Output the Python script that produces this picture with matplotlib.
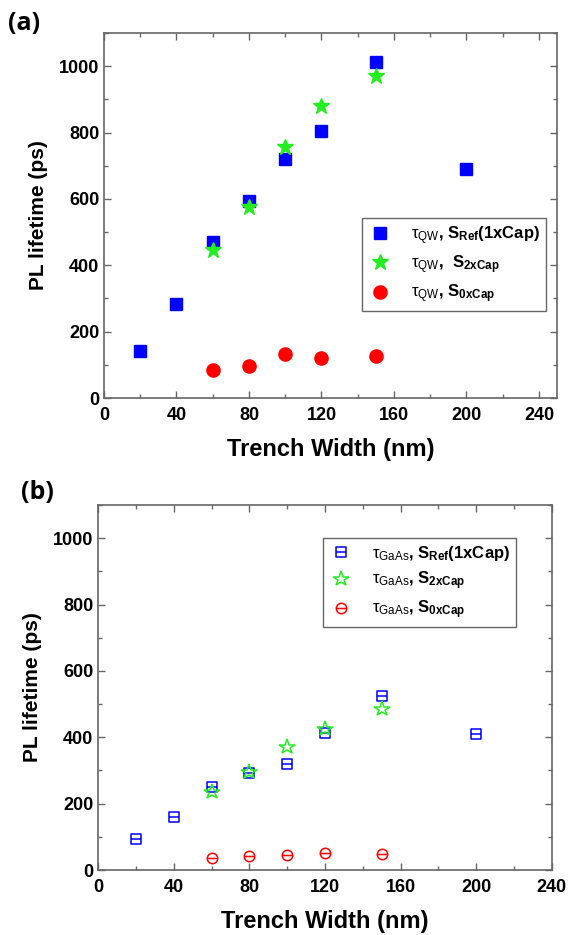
import matplotlib
matplotlib.use('Agg')
import matplotlib.pyplot as plt
import numpy as np
from matplotlib.path import Path
from matplotlib.ticker import MultipleLocator

plt.rcParams.update({
    'font.family': ['Liberation Sans', 'DejaVu Sans'],
    'font.weight': 'bold',
    'mathtext.fontset': 'custom',
    'mathtext.rm': 'Liberation Sans:normal',
    'mathtext.it': 'Liberation Sans:normal',
    'mathtext.bf': 'Liberation Sans:bold',
    'xtick.direction': 'in',
    'ytick.direction': 'in',
})

# ---- data (trench width in nm, PL lifetime in ps) ----
w_ref = [20, 40, 60, 80, 100, 120, 150, 200]
w_cap = [60, 80, 100, 120, 150]

qw_ref = [141, 282, 470, 594, 721, 804, 1013, 689]
qw_2x = [446, 576, 757, 880, 971]
qw_0x = [85, 97, 133, 121, 127]

gaas_ref = [93, 159, 251, 291, 318, 414, 524, 409]
gaas_2x = [236, 295, 370, 426, 485]
gaas_0x = [35, 42, 44, 50, 47]

BLUE = '#0000FF'
GREEN = '#22EE22'
RED = '#FF0000'
SPINE = '#666666'

# custom open markers with a horizontal bar (square / circle)
bar = Path([(-1, 0), (1, 0)], [Path.MOVETO, Path.LINETO])
sq = Path([(-1, -1), (1, -1), (1, 1), (-1, 1), (-1, -1)],
          [Path.MOVETO, Path.LINETO, Path.LINETO, Path.LINETO, Path.CLOSEPOLY])
sq_bar = Path.make_compound_path(sq, bar)
circ_bar = Path.make_compound_path(Path.unit_circle(), bar)

fig = plt.figure(figsize=(5.79, 9.35), dpi=100)
ax_a = fig.add_axes([0.1796, 0.5743, 0.7826, 0.3904])
ax_b = fig.add_axes([0.1698, 0.0695, 0.7830, 0.3904])


def style_axes(ax, xmax):
    ax.set_xlim(0, xmax)
    ax.set_ylim(0, 1100)
    ax.xaxis.set_major_locator(MultipleLocator(40))
    ax.xaxis.set_minor_locator(MultipleLocator(20))
    ax.yaxis.set_major_locator(MultipleLocator(200))
    ax.yaxis.set_minor_locator(MultipleLocator(100))
    ax.tick_params(which='both', top=True, right=True, color=SPINE,
                   labelsize=13, width=1.0)
    ax.tick_params(which='major', length=5)
    ax.tick_params(which='minor', length=3)
    ax.tick_params(axis='x', which='major', pad=6.5)
    for s in ax.spines.values():
        s.set_color(SPINE)
        s.set_linewidth(1.2)
    for lab in ax.get_xticklabels() + ax.get_yticklabels():
        lab.set_fontweight('bold')
    ax.set_xlabel('Trench Width (nm)', fontsize=17, fontweight='bold',
                  labelpad=10)
    ax.set_ylabel('PL lifetime (ps)', fontsize=15, fontweight='bold',
                  labelpad=8)


def add_legend(ax, anchor):
    leg = ax.legend(loc='upper left', bbox_to_anchor=anchor,
                    prop={'size': 12, 'weight': 'bold'}, fancybox=False,
                    edgecolor=SPINE, framealpha=1, handletextpad=1.1,
                    labelspacing=0.4, borderpad=0.35, handlelength=1.5,
                    borderaxespad=0)
    leg.get_frame().set_linewidth(1.0)
    return leg


# ---- panel (a) ----
ax = ax_a
ax.plot(w_ref, qw_ref, 's', color=BLUE, ms=8.5, mec=BLUE,
        label=r'$\mathrm{\tau_{QW}}$, $\mathbf{S_{Ref}(1xCap)}$')
ax.plot(w_cap, qw_2x, '*', color=GREEN, ms=12, mec=GREEN,
        label=r'$\mathrm{\tau_{QW}}$,  $\mathbf{S_{2xCap}}$')
ax.plot(w_cap, qw_0x, 'o', color=RED, ms=9.5, mec=RED,
        label=r'$\mathrm{\tau_{QW}}$, $\mathbf{S_{0xCap}}$')
style_axes(ax, 250)
add_legend(ax, (0.5695, 0.493))

# ---- panel (b) ----
ax = ax_b
ax.plot(w_ref, gaas_ref, linestyle='none', marker=sq_bar, ms=7.5,
        mfc='none', mec=BLUE, mew=1.1,
        label=r'$\mathrm{\tau_{GaAs}}$, $\mathbf{S_{Ref}(1xCap)}$')
ax.plot(w_cap, gaas_2x, '*', ms=11.5, mfc='none', mec=GREEN, mew=1.1,
        label=r'$\mathrm{\tau_{GaAs}}$, $\mathbf{S_{2xCap}}$')
ax.plot(w_cap, gaas_0x, linestyle='none', marker=circ_bar, ms=7.5,
        mfc='none', mec=RED, mew=1.1,
        label=r'$\mathrm{\tau_{GaAs}}$, $\mathbf{S_{0xCap}}$')
style_axes(ax, 240)
add_legend(ax, (0.4956, 0.9096))

fig.text(0.014, 0.975, '(a)', fontsize=18, fontweight='bold',
         family=['Open Sans', 'DejaVu Sans'], va='center', ha='left')
fig.text(0.036, 0.473, '(b)', fontsize=18, fontweight='bold',
         family=['Open Sans', 'DejaVu Sans'], va='center', ha='left')

fig.savefig('out.png', dpi=100)
